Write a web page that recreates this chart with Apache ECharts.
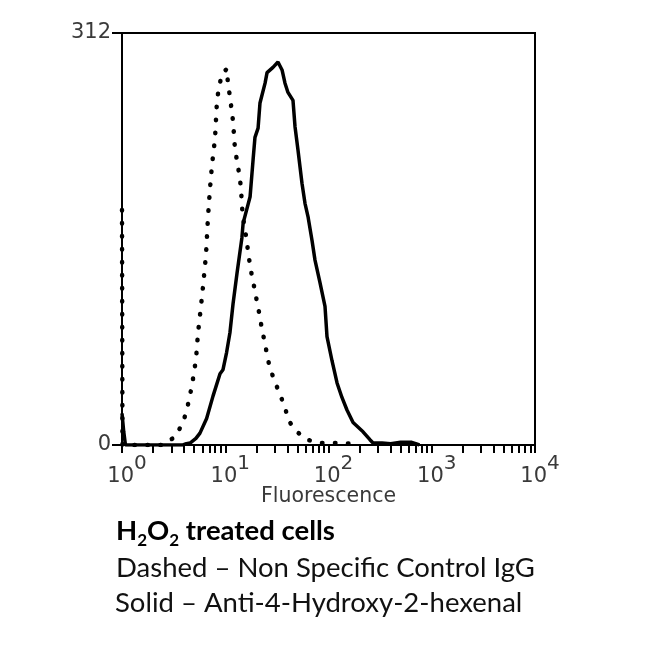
<!DOCTYPE html>
<html>
<head>
<meta charset="utf-8">
<script src="https://cdn.jsdelivr.net/npm/echarts@6/dist/echarts.min.js"></script>
<style>html,body{margin:0;padding:0;background:#fff}#c{width:650px;height:650px}</style>
</head>
<body>
<div id="c"></div>
<script>
// Dashed: Non Specific Control IgG (fluorescence, count)
const dashedX = [1, 1.01, 2.4, 2.61, 3.26, 3.9, 4.26, 4.76, 5.21, 5.45, 5.82, 6.09, 6.51, 6.81, 7.13, 7.44, 7.96, 8.32, 8.7, 9.3, 10.4, 10.6, 11.1, 11.9, 12.4, 13.0, 13.6, 14.2, 14.5, 15.3, 16.2, 16.6, 18.2, 19.4, 20.3, 21.7, 22.7, 24.3, 25.4, 27.1, 30.3, 33.9, 37.9, 40.5, 49.5, 61.9, 82.7, 120, 180, 200];
const dashedY = [178, 0, 0, 1.5, 6, 17, 27, 45, 65, 85, 105, 120, 144, 173, 195, 212, 232, 261, 271, 281, 285, 274, 264, 245, 225, 215, 206, 195, 181, 165, 155, 146, 127, 117, 108, 97, 87, 77, 68, 58, 48, 38, 29, 19, 10, 4, 1.5, 1.5, 1, 0];
// Solid: Anti-4-Hydroxy-2-hexenal
const solidX = [1, 1.04, 1.08, 3.9, 4.2, 4.56, 5.2, 5.69, 6.6, 7.61, 8.9, 9.51, 10.3, 11.1, 11.9, 13.0, 14.5, 14.9, 17.4, 18.6, 19.4, 20.8, 21.7, 24.3, 25.4, 29.0, 32.4, 35.5, 37.9, 40.5, 45.3, 47.4, 50.7, 55.4, 59.2, 63.3, 69.2, 74, 82.7, 92.5, 96.7, 108, 121, 135, 151, 173, 216, 252, 270, 330, 400, 500, 640, 700, 760];
const solidY = [24, 10, 0, 0, 1, 1.5, 5, 9, 20, 37, 54, 57, 70, 85, 107, 130, 157, 168, 188, 216, 233, 240, 259, 274, 282, 286, 290, 284, 274, 267, 261, 241, 223, 198, 183, 173, 155, 140, 123, 105, 82, 64, 47, 36, 26.5, 17, 10, 4, 1.5, 1.5, 1, 2, 2, 1, 0];
// Axis ticks
const xMin = 1, xMax = 10000;
const yMin = 0, yMax = 312;
const xTickValues = [1,2,3,4,5,6,7,8,9,10,20,30,40,50,60,70,80,90,100,200,300,400,500,600,700,800,900,1000,2000,3000,4000,5000,6000,7000,8000,9000,10000];
const xAxisName = 'Fluorescence';
const captionTitle = ['H', '2', 'O', '2', ' treated cells'];
const captionLines = ['Dashed \u2013 Non Specific Control IgG', 'Solid \u2013 Anti-4-Hydroxy-2-hexenal'];

const zip = (xs, ys) => xs.map((x, i) => [x, ys[i]]);
const labelFont = 'DejaVu Sans';
const grey = '#3a3a3a';
const capFont = 'Lato';
const capSize = 27.5;

const chart = echarts.init(document.getElementById('c'), null, {renderer: 'canvas'});
chart.setOption({
  animation: false,
  backgroundColor: '#fff',
  grid: {left: 122, right: 115, top: 33, bottom: 205, show: true, borderColor: '#000', borderWidth: 2, backgroundColor: 'transparent'},
  xAxis: [{
    type: 'log', logBase: 10, min: xMin, max: xMax, position: 'bottom',
    name: xAxisName, nameLocation: 'middle', nameGap: 41, nameMoveOverlap: false,
    nameTextStyle: {fontFamily: labelFont, fontSize: 20.5, color: grey},
    axisLine: {show: true, lineStyle: {color: '#000', width: 2}},
    axisTick: {show: false},
    splitLine: {show: false},
    minorTick: {show: false},
    axisLabel: {
      margin: 9,
      padding: [0, 0, 0, 10],
      formatter: v => '{b|10}{s|' + Math.round(Math.log10(v)) + '}',
      rich: {
        b: {fontFamily: labelFont, fontSize: 21, color: grey, verticalAlign: 'bottom', padding: [12, 0, 0, 0]},
        s: {fontFamily: labelFont, fontSize: 20, color: grey, verticalAlign: 'top'}
      }
    }
  }, {
    type: 'value', min: Math.log10(xMin), max: Math.log10(xMax), position: 'bottom',
    axisLine: {show: false},
    axisLabel: {show: false},
    splitLine: {show: false},
    axisTick: {show: true, length: 8, customValues: xTickValues.map(v => Math.log10(v)), lineStyle: {color: '#000', width: 2}}
  }],
  yAxis: {
    type: 'value', min: yMin, max: yMax, interval: yMax,
    axisLine: {show: true, lineStyle: {color: '#000', width: 2}},
    axisTick: {show: true, length: 10, lineStyle: {color: '#000', width: 2}},
    splitLine: {show: false},
    axisLabel: {margin: 11, fontFamily: labelFont, fontSize: 21, color: grey}
  },
  series: [{
    type: 'line', name: 'Dashed', xAxisIndex: 0, data: zip(dashedX, dashedY),
    showSymbol: false, symbol: 'none', smooth: false,
    lineStyle: {color: '#000', width: 4.5, type: [0.5, 12.5], cap: 'round'},
    z: 3
  }, {
    type: 'line', name: 'Solid', xAxisIndex: 0, data: zip(solidX, solidY),
    showSymbol: false, symbol: 'none', smooth: false,
    lineStyle: {color: '#000', width: 3.5},
    z: 4
  }],
  graphic: [{
    type: 'text', x: 116, y: 517,
    style: {
      text: '{b|' + captionTitle[0] + '}{sub|' + captionTitle[1] + '}{b|' + captionTitle[2] + '}{sub|' + captionTitle[3] + '}{b|' + captionTitle[4] + '}',
      verticalAlign: 'top',
      rich: {
        b: {fontFamily: capFont, fontWeight: 'bold', fontSize: capSize, fill: '#000', verticalAlign: 'bottom', padding: [0, 0, 4, 0]},
        sub: {fontFamily: capFont, fontWeight: 'bold', fontSize: 17, fill: '#000', verticalAlign: 'bottom'}
      }
    }
  }, {
    type: 'text', x: 116, y: 554,
    style: {text: captionLines[0], verticalAlign: 'top', fontFamily: capFont, fontSize: capSize, fill: '#111'}
  }, {
    type: 'text', x: 115, y: 589,
    style: {text: captionLines[1], verticalAlign: 'top', fontFamily: capFont, fontSize: capSize, fill: '#111'}
  }]
});
</script>
</body>
</html>
